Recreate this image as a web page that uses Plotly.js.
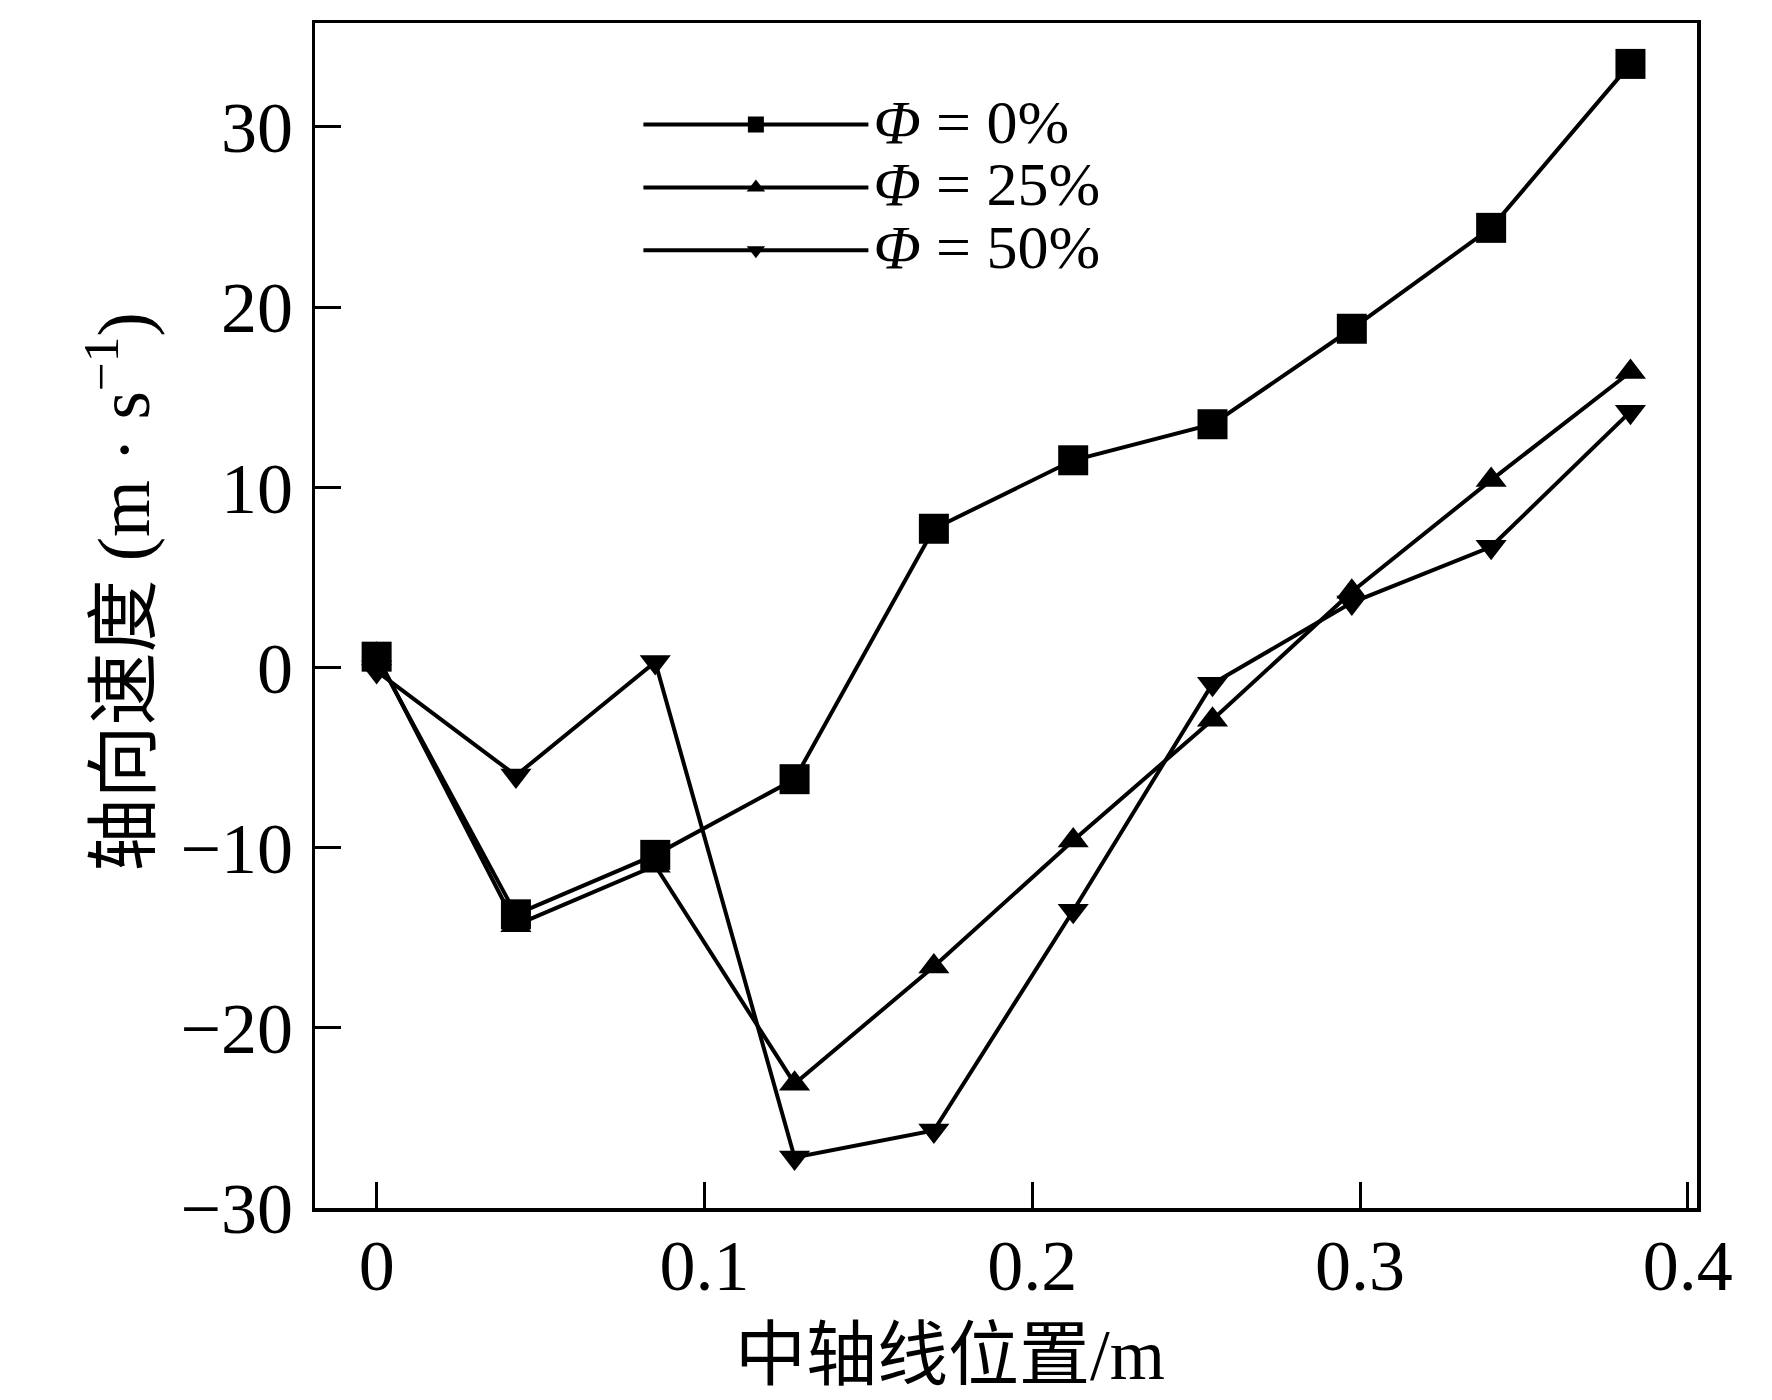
<!DOCTYPE html>
<html>
<head>
<meta charset="utf-8">
<script src="https://cdn.plot.ly/plotly-3.0.1.min.js"></script>
<style>
  html, body { margin: 0; padding: 0; background: #fff; }
  #plot { width: 1772px; height: 1400px; }
</style>
</head>
<body>
<div id="plot"></div>
<script>
// 中轴线位置 (m)
const position = [0, 0.0425, 0.085, 0.1275, 0.17, 0.2125, 0.255, 0.2975, 0.34, 0.3825];

// 轴向速度 (m/s) for each Φ
const phi0  = [0.6, -13.7, -10.4, -6.2, 7.7, 11.5, 13.5, 18.8, 24.4, 33.5];
const phi25 = [0.7, -14.3, -11.0, -23.1, -16.6, -9.6, -2.9, 4.2, 10.4, 16.4];
const phi50 = [-0.2, -6.0, 0.3, -27.2, -25.7, -13.5, -0.9, 3.6, 6.7, 14.2];

const seriesNames = ["<i>Φ</i> = 0%", "<i>Φ</i> = 25%", "<i>Φ</i> = 50%"];

const xTicks = [0, 0.1, 0.2, 0.3, 0.4];
const yTicks = [-30, -20, -10, 0, 10, 20, 30];

const serif = "Liberation Serif, Times New Roman, Noto Sans CJK SC, serif";

function legendName(name) {
    // text a bit bigger than the legend's row font, so the rows stay close
    return '<span style="font-size:62px">' + name + '</span>';
}

function makeTrace(y, name, symbol, size, rank) {
    return {
        type: "scatter",
        mode: "lines+markers",
        x: position,
        y: y,
        name: legendName(name),
        legendrank: rank,
        line: { color: "#000", width: 4 },
        marker: { symbol: symbol, size: size, color: "#000" },
        cliponaxis: false
    };
}

// 0% last so its squares sit on top
const traces = [
    makeTrace(phi50, seriesNames[2], "triangle-down", 27, 3),
    makeTrace(phi25, seriesNames[1], "triangle-up", 27, 2),
    makeTrace(phi0,  seriesNames[0], "square", 30, 1)
];

const axisCommon = {
    showline: true,
    linecolor: "#000",
    linewidth: 3.5,
    mirror: true,
    ticks: "inside",
    ticklen: 26,
    tickwidth: 3,
    tickcolor: "#000",
    showgrid: false,
    zeroline: false,
    tickfont: { family: serif, size: 72, color: "#000" }
};

const layout = {
    width: 1772,
    height: 1400,
    paper_bgcolor: "#fff",
    plot_bgcolor: "#fff",
    margin: { l: 315, r: 75, t: 23, b: 192 },
    showlegend: true,
    legend: {
        x: 0.234,
        y: 0.945,
        xanchor: "left",
        yanchor: "top",
        bgcolor: "rgba(0,0,0,0)",
        font: { family: serif, size: 46, color: "#000" },
        itemwidth: 225,
        traceorder: "normal"
    },
    xaxis: Object.assign({}, axisCommon, {
        range: [-0.0188, 0.4028],
        tickvals: xTicks,
        ticktext: xTicks.map(v => String(v)),
        ticklabelstandoff: -8
    }),
    yaxis: Object.assign({}, axisCommon, {
        range: [-30, 35.77],
        tickvals: yTicks,
        ticklabelstandoff: 4
    }),
    annotations: [
        {
            text: "中轴线位置/m",
            xref: "paper", yref: "paper",
            x: 0.4595, y: -0.124,
            xanchor: "center", yanchor: "middle",
            showarrow: false,
            font: { family: serif, size: 71, color: "#000" }
        },
        {
            text: "轴向速度 (m · s<sup>−1</sup>)",
            xref: "paper", yref: "paper",
            x: -0.142, y: 0.52,
            xanchor: "center", yanchor: "middle",
            textangle: -90,
            showarrow: false,
            font: { family: serif, size: 73, color: "#000" }
        }
    ]
};

Plotly.newPlot("plot", traces, layout, { displayModeBar: false, staticPlot: true });
</script>
</body>
</html>
